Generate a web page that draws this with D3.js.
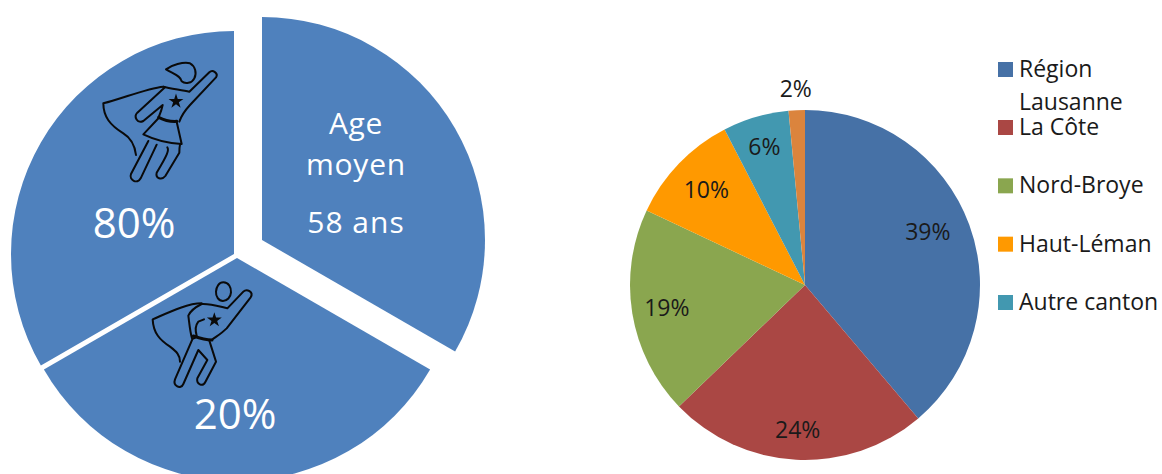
<!DOCTYPE html>
<html>
<head>
<meta charset="utf-8">
<script src="https://cdn.jsdelivr.net/npm/d3@7"></script>
<style>
  html, body { margin: 0; padding: 0; background: #fff; }
  svg { display: block; }
  text { font-family: "Open Sans", sans-serif; }
</style>
</head>
<body>
<script>
// Left pie data
const ageSlices = ["Age moyen", "20%", "80%"];
const ageValues = [1, 1, 1];

// Right pie data
const regions = ["Région Lausanne", "La Côte", "Nord-Broye", "Haut-Léman", "Autre canton", "Autre"];
const regionValues = [38.8, 24, 19.2, 10.4, 6.1, 1.5];
const regionLabels = ["39%", "24%", "19%", "10%", "6%", "2%"];
const regionColors = ["#4671a6", "#aa4744", "#8aa64f", "#ff9900", "#4298b0", "#db843d"];

const width = 1162;
const height = 474;

const svg = d3.select("body").append("svg")
    .attr("width", width)
    .attr("height", height);

// Left pie, each slice pulled out on its own
const leftRadius = 223;
const sliceOrigins = [[262, 240], [237, 258], [234, 254]];

const leftPie = d3.pie().sort(null);
const leftArc = d3.arc().innerRadius(0).outerRadius(leftRadius);

svg.append("g")
    .selectAll("path")
    .data(leftPie(ageValues))
    .enter().append("path")
    .attr("d", leftArc)
    .attr("transform", (d, i) => `translate(${sliceOrigins[i]})`)
    .attr("fill", "#4f81bd");

const whiteText = (x, y, size, str, spacing) => svg.append("text")
    .attr("x", x)
    .attr("y", y)
    .attr("text-anchor", "middle")
    .attr("font-size", size)
    .attr("letter-spacing", spacing || 0)
    .attr("fill", "#fff")
    .text(str);

const [ageWord, moyenWord] = ageSlices[0].split(" ");
whiteText(356, 134, 30, ageWord, 0.6);
whiteText(356, 175, 30, moyenWord, 0.8);
whiteText(356, 233, 30, "58 ans", 1);
whiteText(134, 238, 42, ageSlices[2]);
whiteText(235, 429, 42, ageSlices[1]);

// Icons, drawn in the coordinates of a 3x crop
const drawIcon = (x, y, paths, star) => {
    const g = svg.append("g")
        .attr("transform", `translate(${x},${y}) scale(${1 / 3})`)
        .attr("fill", "none")
        .attr("stroke", "#0a0a0a")
        .attr("stroke-linejoin", "round")
        .attr("stroke-linecap", "round");
    paths.forEach(p => g.append("path").attr("d", p.d).attr("stroke-width", p.w || 6));
    g.append("path")
        .attr("d", d3.symbol(d3.symbolStar).size(620))
        .attr("transform", `translate(${star})`)
        .attr("fill", "#0a0a0a")
        .attr("stroke", "none");
};

drawIcon(80, 40, [
    { d: "M258 88C275 75 310 65 330 70C346 78 351 100 343 115C336 130 315 133 305 124C302 108 283 103 258 88Z" },
    { d: "M250 140C270 145 305 150 328 155L388 97C398 87 416 100 408 112L330 195C318 208 306 222 298 245" },
    { d: "M255 142L172 218C160 230 172 252 190 243L248 195C245 210 240 222 236 232" },
    { d: "M236 232C255 242 272 245 290 244", w: 9 },
    { d: "M236 234L190 283C225 300 265 310 305 312L290 245" },
    { d: "M250 140C200 145 130 175 70 190C70 230 90 255 130 280C155 295 165 320 168 345" },
    { d: "M205 303L153 402C146 420 172 434 182 415L230 314" },
    { d: "M262 322C268 330 262 345 230 398C226 415 245 422 256 408L298 338C298 330 298 322 300 314" }
], [288, 184]);

drawIcon(130, 270, [
    { d: "M280 37C296 37 304 52 303 67C302 82 291 93 279 93C266 93 257 80 258 65C259 50 267 37 280 37Z" },
    { d: "M215 102C240 100 270 110 292 115L340 65C350 55 372 65 362 82L290 175C275 190 258 200 245 210" },
    { d: "M215 102C195 112 180 125 175 137C178 160 180 185 186 205C192 206 196 204 200 197C195 180 197 165 205 155L222 148" },
    { d: "M190 198C210 205 228 210 246 210", w: 9 },
    { d: "M215 100C170 100 110 130 68 148C70 190 90 210 120 230C140 245 150 255 150 275" },
    { d: "M188 206L135 328C128 348 152 360 160 342L205 240L232 270L202 325C198 342 218 352 226 336L258 275L238 212" }
], [253, 150]);

// Right pie
const cx = 805;
const cy = 285;
const radius = 175;

const color = d3.scaleOrdinal().domain(regions).range(regionColors);
const rightPie = d3.pie().sort(null);
const rightArc = d3.arc().innerRadius(0).outerRadius(radius);

const right = svg.append("g").attr("transform", `translate(${cx},${cy})`);

right.selectAll("path")
    .data(rightPie(regionValues))
    .enter().append("path")
    .attr("d", rightArc)
    .attr("fill", (d, i) => color(regions[i]));

// Label distance from the pie centre, then a small nudge
const labelRadii = [134, 145, 140, 137, 144, 196];
const labelNudges = [[-3, -7], [0, 0], [0, 0], [0, 0], [0, 0], [0, 0]];

right.selectAll("text")
    .data(rightPie(regionValues))
    .enter().append("text")
    .attr("transform", (d, i) => {
        const a = (d.startAngle + d.endAngle) / 2;
        const x = labelRadii[i] * Math.sin(a) + labelNudges[i][0];
        const y = -labelRadii[i] * Math.cos(a) + labelNudges[i][1];
        return `translate(${x},${y})`;
    })
    .attr("dy", "0.35em")
    .attr("text-anchor", "middle")
    .attr("font-size", 23)
    .attr("fill", "#1a1a1a")
    .text((d, i) => regionLabels[i]);

// Legend, the last slice has no entry
const legendRows = d3.scalePoint()
    .domain(regions.slice(1, 5))
    .range([127, 302]);

const legendY = name => name === regions[0] ? 69 : legendRows(name);

const legend = svg.append("g")
    .selectAll("g")
    .data(regions.slice(0, 5))
    .enter().append("g")
    .attr("transform", d => `translate(998,${legendY(d)})`);

legend.append("rect")
    .attr("y", -7)
    .attr("width", 15)
    .attr("height", 15)
    .attr("fill", d => color(d));

legend.append("text")
    .attr("font-size", 23)
    .attr("fill", "#1a1a1a")
    .each(function(d) {
        const words = d === regions[0] ? d.split(" ") : [d];
        d3.select(this).selectAll("tspan")
            .data(words)
            .enter().append("tspan")
            .attr("x", 21)
            .attr("dy", (w, i) => i ? 33 : 8)
            .text(w => w);
    });
</script>
</body>
</html>
